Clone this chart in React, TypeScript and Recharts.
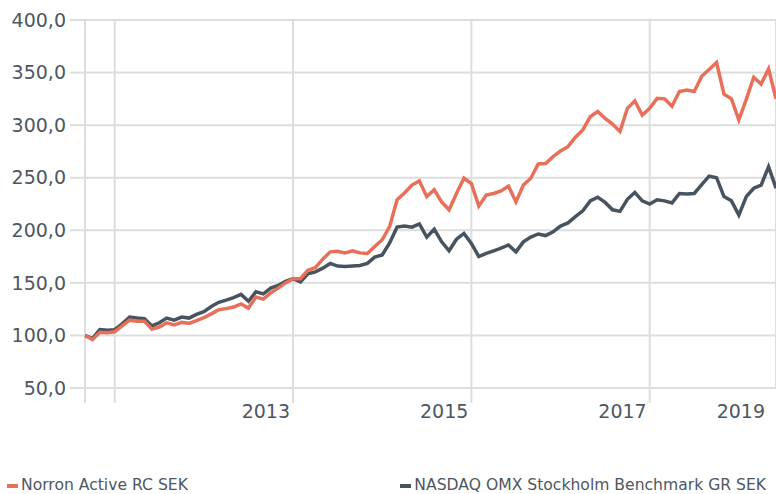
import { CartesianGrid, Legend, Line, LineChart, XAxis, YAxis } from 'recharts'

// monthly index values, Sep 2010 .. Jun 2018
const START_YEAR = 2010
const START_MONTH = 8

const norron = [
  100, 96, 103, 102.5, 103.5, 109, 114.5, 113.5, 113.5, 106,
  108, 112, 110, 112.5, 111.5, 114, 117, 120.5, 124.5, 125.5,
  127, 130, 126, 136.5, 134.5, 140.5, 145, 150, 154, 154,
  162, 164.5, 172.5, 179.5, 180, 178.5, 180.5, 178.5, 178, 184.5,
  191, 203.5, 229, 235.5, 243, 247, 232, 238.5, 227, 219.5,
  235, 249.5, 244.5, 223, 233.5, 235, 237.5, 242, 227, 243,
  249.5, 263, 263.5, 270, 275.5, 279.5, 288.5, 295.5, 308, 313,
  306.5, 301, 294, 316, 323, 309.5, 316, 325.5, 325, 318,
  332, 333.5, 332, 346.5, 353, 359.5, 329.5, 325, 305, 324.5,
  345.5, 339, 353.5, 325,
]

const benchmark = [
  100, 97, 105.5, 105, 105.5, 111, 117.5, 116.5, 116, 109,
  112, 116.5, 114.5, 117.5, 116.5, 120, 122.5, 127.5, 131.5, 133.5,
  136, 139, 132.5, 141.5, 139.5, 145, 147.5, 151.5, 154, 151,
  158.5, 160.5, 164, 168.5, 166, 165.5, 166, 166.5, 168.5, 174.5,
  176.5, 188, 203, 204, 203, 206, 193.5, 201, 189, 180.5,
  191.5, 197, 187.5, 175, 178, 180.5, 183, 186, 179.5, 189,
  193.5, 196.5, 195, 198.5, 204, 207, 213, 218.5, 228, 231.5,
  226.5, 219.5, 218, 229.5, 236, 228, 225, 229, 228, 226,
  235, 234.5, 235, 243.5, 251.5, 250, 232, 228, 214.5, 232,
  240, 243, 260.5, 240,
]

const gridTicks = [0, 4, 28, 52, 76]
const yearLabels = ['2013', '2015', '2017', '2019']
const yearLabelTicks = [28, 52, 76, 93]
const yTicks = [50, 100, 150, 200, 250, 300, 350, 400]

const SERIES = [
  { key: 'norron', name: 'Norron Active RC SEK', color: '#E8705A' },
  { key: 'benchmark', name: 'NASDAQ OMX Stockholm Benchmark GR SEK', color: '#47535E' },
]

const TEXT = '#4D5761'
const GRID = '#DDDDDD'
const FONT = '"DejaVu Sans", Verdana, sans-serif'

const data = norron.map((v, i) => {
  const m = START_MONTH + i
  return {
    i,
    month: `${START_YEAR + Math.floor(m / 12)}-${String((m % 12) + 1).padStart(2, '0')}`,
    norron: v,
    benchmark: benchmark[i],
  }
})

const fmt = (v: number) => v.toFixed(1).replace('.', ',')

function YearTick({ x, y, payload }: any) {
  const label = yearLabels[yearLabelTicks.indexOf(payload.value)]
  return (
    <text x={x - 3} y={y} dy="0.71em" textAnchor="end" fill={TEXT} fontSize={19} fontFamily={FONT}>
      {label}
    </text>
  )
}

const EmptyTick = () => <g />

function ChartLegend() {
  return (
    <div
      style={{
        display: 'flex',
        justifyContent: 'space-between',
        height: 24,
        boxSizing: 'border-box',
        padding: '7px 10px 0 7px',
        fontSize: 15.6,
        lineHeight: '17px',
        color: TEXT,
        fontFamily: FONT,
      }}
    >
      {SERIES.map((s) => (
        <span key={s.key} style={{ display: 'flex', alignItems: 'center' }}>
          <span style={{ width: 11, height: 4, background: s.color, marginRight: 3 }} />
          {s.name}
        </span>
      ))}
    </div>
  )
}

export default function App() {
  return (
    <div style={{ position: 'absolute', left: 0, top: 0, width: 776, height: 494, fontFamily: FONT }}>
      <LineChart width={776} height={494} data={data} margin={{ top: 20, right: 0, bottom: 0, left: 0 }}>
        <CartesianGrid stroke={GRID} strokeWidth={2} />
        <XAxis
          dataKey="i"
          type="number"
          domain={[0, 93]}
          ticks={gridTicks}
          tick={<EmptyTick />}
          tickSize={15}
          tickLine={{ stroke: GRID, strokeWidth: 2 }}
          axisLine={false}
          height={15}
        />
        <XAxis
          xAxisId="years"
          dataKey="i"
          type="number"
          domain={[0, 93]}
          ticks={yearLabelTicks}
          tick={<YearTick />}
          tickSize={0}
          tickMargin={2}
          tickLine={false}
          axisLine={false}
          height={67}
        />
        <YAxis
          domain={[50, 400]}
          ticks={yTicks}
          tickFormatter={fmt}
          width={85}
          tickSize={15}
          tickMargin={4}
          tickLine={{ stroke: GRID, strokeWidth: 2 }}
          axisLine={false}
          tick={{ fill: TEXT, fontSize: 19, fontFamily: FONT }}
        />
        <Legend verticalAlign="bottom" height={24} content={<ChartLegend />} wrapperStyle={{ left: 0, width: 776 }} />
        <Line
          dataKey="benchmark"
          name={SERIES[1].name}
          stroke={SERIES[1].color}
          strokeWidth={3.5}
          dot={false}
          type="linear"
          isAnimationActive={false}
        />
        <Line
          dataKey="norron"
          name={SERIES[0].name}
          stroke={SERIES[0].color}
          strokeWidth={3.5}
          dot={false}
          type="linear"
          isAnimationActive={false}
        />
      </LineChart>
    </div>
  )
}
